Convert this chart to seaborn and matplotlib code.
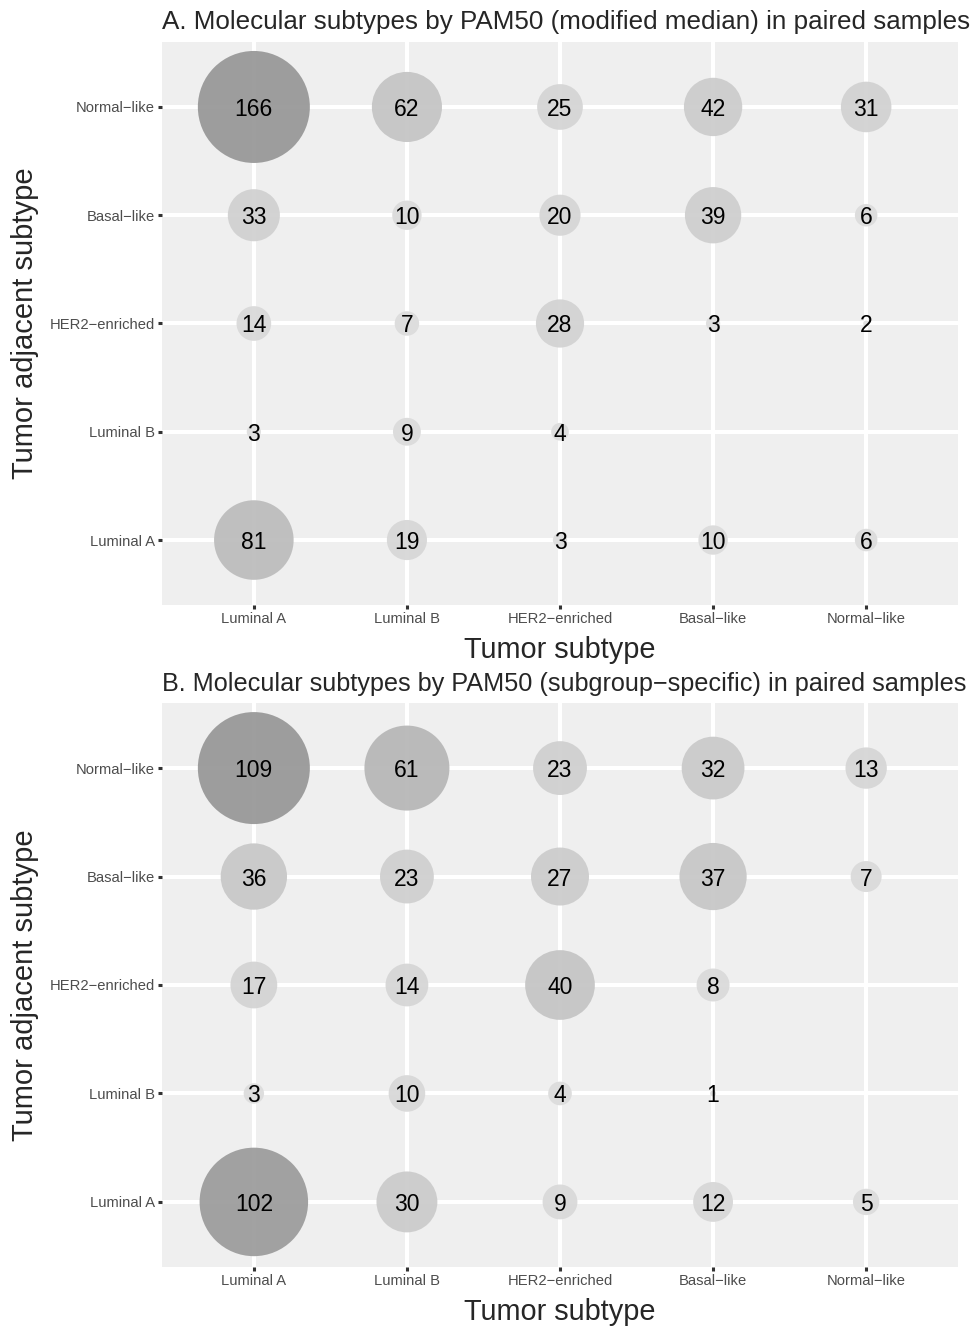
import numpy as np
import pandas as pd
import matplotlib
matplotlib.use("Agg")
import matplotlib.pyplot as plt
import matplotlib.colors as col
import seaborn as sns

subtypes = ["Luminal A", "Luminal B", "HER2\u2212enriched", "Basal\u2212like", "Normal\u2212like"]

# rows = tumor adjacent subtype (Luminal A .. Normal-like), cols = tumor subtype
counts_a = [
    [81, 19, 3, 10, 6],
    [3, 9, 4, None, None],
    [14, 7, 28, 3, 2],
    [33, 10, 20, 39, 6],
    [166, 62, 25, 42, 31],
]
counts_b = [
    [102, 30, 9, 12, 5],
    [3, 10, 4, 1, None],
    [17, 14, 40, 8, None],
    [36, 23, 27, 37, 7],
    [109, 61, 23, 32, 13],
]

title_a = "A. Molecular subtypes by PAM50 (modified median) in paired samples"
title_b = "B. Molecular subtypes by PAM50 (subgroup\u2212specific) in paired samples"

sns.set_style("darkgrid", {"axes.facecolor": "#EFEFEF", "grid.color": "white"})
plt.rcParams['font.family'] = ['Liberation Sans', 'DejaVu Sans']

gray_map = col.LinearSegmentedColormap.from_list("grays", ["#DEDEDE", "#999999"])


def long_table(counts):
    rows = []
    for i, row in enumerate(counts):
        for j, v in enumerate(row):
            if v is not None:
                rows.append({"tumor": j, "adjacent": i, "n": v})
    return pd.DataFrame(rows)


def bubble(ax, counts, title, title_size):
    df = long_table(counts)
    lo, hi = df.n.min(), df.n.max()
    # ggplot-like size scale: radius grows with sqrt of rescaled value
    sizes = {}
    for v in df.n.unique():
        r_px = 3 + 53 * np.sqrt((v - lo) / (hi - lo))
        sizes[v] = (2 * r_px * 0.72) ** 2
    sns.scatterplot(data=df, x="tumor", y="adjacent", size="n", sizes=sizes,
                    hue="n", palette=gray_map, hue_norm=(lo, hi),
                    linewidth=0, alpha=0.95, legend=False, ax=ax, zorder=2)
    for _, r in df.iterrows():
        ax.text(r.tumor, r.adjacent, str(int(r.n)), ha="center", va="center_baseline",
                fontsize=16.5, color="black", zorder=3)
    ax.set_xlim(-0.6, 4.6)
    ax.set_ylim(-0.6, 4.6)
    ax.set_xticks(range(5))
    ax.set_xticklabels(subtypes)
    ax.set_yticks(range(5))
    ax.set_yticklabels(subtypes)
    ax.grid(True, linewidth=2.9, color="white")
    ax.set_axisbelow(True)
    for s in ax.spines.values():
        s.set_visible(False)
    ax.tick_params(axis="both", length=3, width=2.2, color="#333333",
                   labelsize=10.6, labelcolor="#4D4D4D", pad=2, direction="out")
    ax.tick_params(axis="x", bottom=True)
    ax.tick_params(axis="y", left=True)
    ax.set_xlabel("Tumor subtype", fontsize=20.8, labelpad=7)
    ax.set_ylabel("Tumor adjacent subtype", fontsize=21, labelpad=8)
    ax.set_title(title, loc="left", fontsize=title_size, pad=9)


fig = plt.figure(figsize=(9.79, 13.26), dpi=100)
ax1 = fig.add_axes([162 / 979, 1 - 605 / 1326, 796 / 979, 563 / 1326])
ax2 = fig.add_axes([162 / 979, 1 - 1267 / 1326, 796 / 979, 564 / 1326])

bubble(ax1, counts_a, title_a, 18.7)
bubble(ax2, counts_b, title_b, 18.2)

fig.savefig("out.png", dpi=100, facecolor="white")
